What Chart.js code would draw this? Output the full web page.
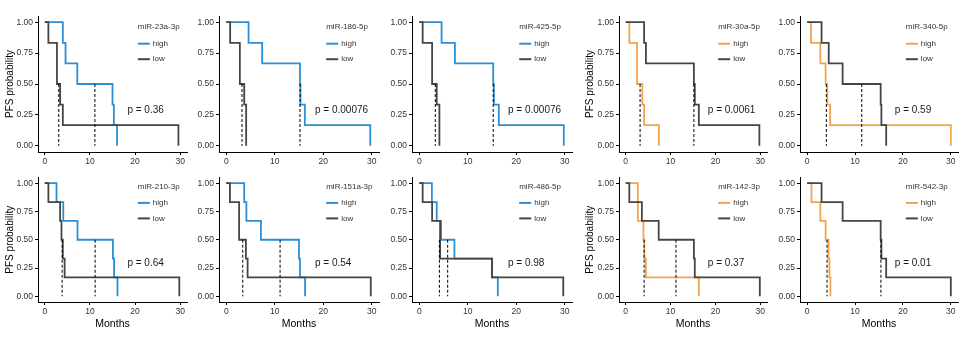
<!DOCTYPE html>
<html>
<head>
<meta charset="utf-8">
<script src="https://cdn.jsdelivr.net/npm/chart.js@4.4.1/dist/chart.umd.min.js"></script>
<style>
  body { margin: 0; background: #fff; }
  #wrap { position: relative; width: 968px; height: 339px; overflow: hidden; }
  #wrap canvas { position: absolute; }
</style>
</head>
<body>
<div id="wrap"></div>
<script>
// panels, left to right, top row then bottom row
const mirNames = ['miR-23a-3p', 'miR-186-5p', 'miR-425-5p', 'miR-30a-5p', 'miR-340-5p',
                  'miR-210-3p', 'miR-151a-3p', 'miR-486-5p', 'miR-142-3p', 'miR-542-3p'];
const pValues = ['0.36', '0.00076', '0.00076', '0.0061', '0.59',
                 '0.64', '0.54', '0.98', '0.37', '0.01'];
const xTicks = [0, 10, 20, 30];
const yTicks = [0, 0.25, 0.5, 0.75, 1];

// step points (months, PFS probability) for the "high" group
const highTimes = [
  [0, 4.0, 4.6, 7.2, 15.0, 15.3, 16.0],
  [0, 4.6, 7.4, 15.2, 15.3, 16.2, 29.7],
  [0, 4.6, 7.35, 15.25, 15.4, 16.4, 29.8],
  [0, 0.8, 2.5, 3.7, 4.1, 7.4],
  [0, 0.8, 2.75, 3.85, 4.2, 4.8, 30.0],
  [0, 2.6, 4.1, 7.25, 15.1, 15.35, 16.1],
  [0, 3.7, 4.15, 7.15, 15.0, 15.2, 16.25],
  [0, 2.6, 3.6, 4.5, 7.25, 15.0, 16.2],
  [0, 2.7, 3.95, 4.15, 4.5, 16.3],
  [0, 0.9, 2.75, 3.85, 4.45, 4.65, 4.85]
];
const highSurv = [
  [1, 0.833, 0.667, 0.5, 0.333, 0.167, 0],
  [1, 0.833, 0.667, 0.5, 0.333, 0.167, 0],
  [1, 0.833, 0.667, 0.5, 0.333, 0.167, 0],
  [1, 0.833, 0.5, 0.333, 0.167, 0],
  [1, 0.833, 0.667, 0.5, 0.333, 0.167, 0],
  [1, 0.833, 0.667, 0.5, 0.333, 0.167, 0],
  [1, 0.833, 0.667, 0.5, 0.333, 0.167, 0],
  [1, 0.833, 0.667, 0.5, 0.333, 0.167, 0],
  [1, 0.667, 0.5, 0.333, 0.167, 0],
  [1, 0.833, 0.667, 0.5, 0.333, 0.167, 0]
];

// step points for the "low" group
const lowTimes = [
  [0, 0.8, 2.7, 3.4, 4.0, 29.6],
  [0, 0.8, 2.8, 3.7, 4.1],
  [0, 0.7, 2.65, 3.6, 4.15],
  [0, 4.1, 4.5, 15.2, 15.4, 16.3, 29.8],
  [0, 3.0, 4.5, 7.4, 15.35, 15.5, 16.5],
  [0, 0.8, 3.4, 3.7, 4.0, 4.4, 29.8],
  [0, 0.75, 2.65, 4.05, 4.4, 29.8],
  [0, 0.7, 2.65, 4.3, 15.0, 29.7],
  [0, 0.8, 3.6, 7.35, 15.2, 15.4, 29.9],
  [0, 3.0, 7.4, 15.35, 15.5, 16.5, 30.0]
];
const lowSurv = [
  [1, 0.833, 0.5, 0.333, 0.167, 0],
  [1, 0.833, 0.5, 0.333, 0],
  [1, 0.833, 0.5, 0.333, 0],
  [1, 0.833, 0.667, 0.5, 0.333, 0.167, 0],
  [1, 0.833, 0.667, 0.5, 0.333, 0.167, 0],
  [1, 0.833, 0.667, 0.5, 0.333, 0.167, 0],
  [1, 0.833, 0.5, 0.333, 0.167, 0],
  [1, 0.833, 0.667, 0.333, 0.167, 0],
  [1, 0.833, 0.667, 0.5, 0.333, 0.167, 0],
  [1, 0.833, 0.667, 0.5, 0.333, 0.167, 0]
];

// median survival (dashed drop lines)
const medianTimes = [
  [3.1, 11.1], [3.25, 15.2], [3.3, 15.25], [3.2, 15.2], [4.0, 11.4],
  [3.85, 11.15], [3.4, 11.1], [4.15, 5.86], [4.1, 11.2], [4.15, 15.4]
];
const pPos = [18.3, 0.29];

// look
const FONT = '"Liberation Sans", Arial, Helvetica, sans-serif';
const BLUE = '#2b8fd6';
const ORANGE = '#f2a44c';
const DARK = '#454545';
const highColors = [BLUE, BLUE, BLUE, ORANGE, ORANGE, BLUE, BLUE, BLUE, ORANGE, ORANGE];

const colLeft = [0, 190, 382, 580, 770];
const colWidth = [190, 192, 194, 190, 198];
const colAxisW = [38, 29, 30, 39, 30];
const colPadR = [3, 3, 4, 3, 10];
const rowTop = [0, 170];
const rowHeight = [170, 169];
const rowPadT = [16, 7.5];
const rowAxisH = [18, 37];

const annot = {
  id: 'annot',
  afterDatasetsDraw(chart, args, o) {
    const {ctx, chartArea: a, scales: {x, y}} = chart;
    ctx.save();
    ctx.textAlign = 'left';
    ctx.textBaseline = 'middle';
    ctx.fillStyle = '#1a1a1a';
    ctx.font = '10px ' + FONT;
    ctx.fillText('p = ' + o.p, x.getPixelForValue(pPos[0]), y.getPixelForValue(pPos[1]));

    const lx = a.left + (a.right - a.left) * 0.67;
    const cy = a.top + (a.bottom - a.top) * 0.2;
    ctx.font = '8px ' + FONT;
    ctx.fillStyle = '#333';
    ctx.fillText(o.title, lx, cy - 16);
    [[o.hiColor, 'high', cy + 0.5], [DARK, 'low', cy + 16]].forEach(function (it) {
      ctx.strokeStyle = it[0];
      ctx.lineWidth = 2;
      ctx.beginPath();
      ctx.moveTo(lx, it[2]);
      ctx.lineTo(lx + 12, it[2]);
      ctx.stroke();
      ctx.fillStyle = '#333';
      ctx.fillText(it[1], lx + 15, it[2]);
    });
    ctx.restore();
  }
};

function pts(ts, ss) {
  return ts.map((t, k) => ({x: t, y: ss[k]}));
}

const wrap = document.getElementById('wrap');

mirNames.forEach(function (name, i) {
  const row = Math.floor(i / 5), col = i % 5;
  const cv = document.createElement('canvas');
  cv.width = colWidth[col];
  cv.height = rowHeight[row];
  cv.style.left = colLeft[col] + 'px';
  cv.style.top = rowTop[row] + 'px';
  cv.style.width = colWidth[col] + 'px';
  cv.style.height = rowHeight[row] + 'px';
  wrap.appendChild(cv);

  const medSets = medianTimes[i].map(m => ({
    data: [{x: m, y: 0.5}, {x: m, y: 0}],
    borderColor: '#000', borderWidth: 1, borderDash: [3, 2],
    pointRadius: 0, fill: false
  }));

  new Chart(cv, {
    type: 'line',
    data: {
      datasets: medSets.concat([
        {data: pts(lowTimes[i], lowSurv[i]), borderColor: DARK, borderWidth: 1.8,
         stepped: true, pointRadius: 0, fill: false},
        {data: pts(highTimes[i], highSurv[i]), borderColor: highColors[i], borderWidth: 1.8,
         stepped: true, pointRadius: 0, fill: false}
      ])
    },
    options: {
      responsive: false,
      animation: false,
      devicePixelRatio: 1,
      layout: {padding: {top: rowPadT[row], right: colPadR[col], left: 0, bottom: 0}},
      plugins: {
        legend: {display: false},
        tooltip: {enabled: false},
        annot: {p: pValues[i], title: name, hiColor: highColors[i]}
      },
      scales: {
        x: {
          type: 'linear', min: -1.5, max: 31.5,
          afterBuildTicks: s => { s.ticks = xTicks.map(v => ({value: v})); },
          afterFit: s => { s.height = rowAxisH[row]; },
          border: {display: true, color: '#000', width: 1},
          grid: {display: true, drawOnChartArea: false, drawTicks: true, tickLength: 3, tickColor: '#000'},
          ticks: {color: '#333', font: {family: FONT, size: 8.5}, padding: 2, maxRotation: 0, autoSkip: false},
          title: {display: row === 1, text: 'Months', color: '#000',
                  font: {family: FONT, size: 10.5}, padding: {top: 0, bottom: 9}}
        },
        y: {
          type: 'linear', min: -0.05, max: 1.05,
          afterBuildTicks: s => { s.ticks = yTicks.map(v => ({value: v})); },
          afterFit: s => { s.width = colAxisW[col]; },
          border: {display: true, color: '#000', width: 1},
          grid: {display: true, drawOnChartArea: false, drawTicks: true, tickLength: 3, tickColor: '#000'},
          ticks: {color: '#333', font: {family: FONT, size: 8.5}, padding: 2,
                  callback: v => Number(v).toFixed(2)},
          title: {display: col === 0 || col === 3, text: 'PFS probability', color: '#000',
                  font: {family: FONT, size: 10}, padding: {top: 4, bottom: 0}}
        }
      }
    },
    plugins: [annot]
  });
});
</script>
</body>
</html>
